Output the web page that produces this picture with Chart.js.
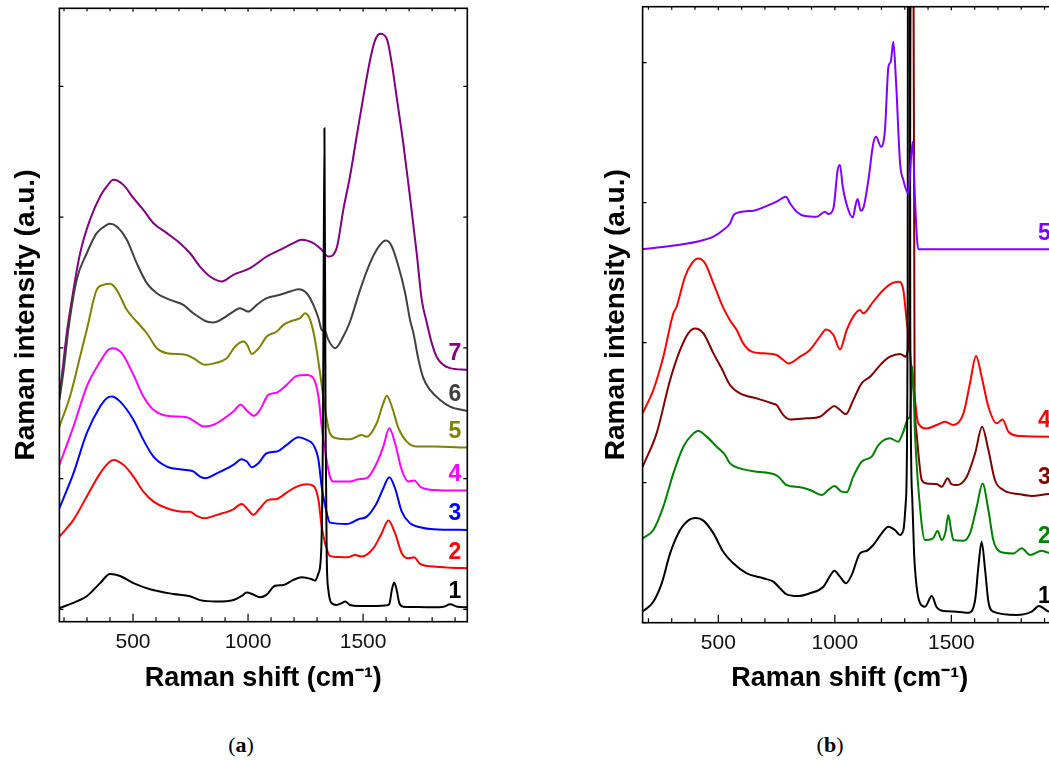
<!DOCTYPE html>
<html>
<head>
<meta charset="utf-8">
<script src="https://cdn.jsdelivr.net/npm/chart.js@4.4.1/dist/chart.umd.min.js"></script>
<style>
  html, body { margin: 0; padding: 0; background: #fff; overflow: hidden; }
  #page { position: relative; width: 1049px; height: 760px; overflow: hidden; background: #fff; }
  canvas { position: absolute; top: 0; }
  #cA { left: 0; }
  #cB { left: 580px; }
  .cap { position: absolute; top: 732px; font-family: "Liberation Serif", "DejaVu Serif", serif; font-size: 22px; color: #000; transform: translateX(-50%); }
</style>
</head>
<body>
<div id="page">
  <canvas id="cA" width="480" height="700"></canvas>
  <canvas id="cB" width="490" height="700"></canvas>
  <div class="cap" style="left:241px">(<b>a</b>)</div>
  <div class="cap" style="left:830px">(<b>b</b>)</div>
</div>
<script>
// ---------- axis ticks ----------
const xMajorTicks = [500, 1000, 1500];
const xMinorTicks = [200, 300, 400, 600, 700, 800, 900, 1100, 1200, 1300, 1400, 1600, 1700, 1800, 1900];
const yTickValues = [0, 1, 2, 3, 4];

// ---------- panel (a) ----------
const aLabels = ['1', '2', '3', '4', '5', '6', '7'];
const aColors = ['#000000', '#ff0000', '#0000ff', '#ff00ff', '#808000', '#404040', '#800080'];

const aShift1 = [180,255,299,357,400,444,502,574,675,748,791,864,936,975,994,1020,1052,1080,1117,1154,1197,1233,1277,1291,1306,1318,1326,1332,1337,1342,1349,1364,1385,1405,1422,1443,1480,1560,1605,1614,1625,1635,1646,1658,1675,1700,1800,1850,1878,1910,1953];
const aInt1 = [0.008,0.06,0.10,0.20,0.27,0.255,0.20,0.153,0.117,0.10,0.07,0.059,0.071,0.105,0.128,0.115,0.092,0.11,0.18,0.186,0.225,0.245,0.23,0.22,0.275,0.45,1.5,3.68,1.4,0.4,0.15,0.046,0.033,0.045,0.059,0.033,0.026,0.026,0.03,0.04,0.148,0.204,0.148,0.045,0.02,0.018,0.015,0.02,0.038,0.02,0.015];

const aShift2 = [180,241,299,357,400,417,458,502,545,589,647,719,748,777,809,864,936,972,1001,1023,1052,1088,1125,1168,1212,1255,1284,1306,1320,1335,1356,1385,1414,1440,1465,1494,1545,1581,1610,1639,1668,1697,1722,1748,1806,1880,1953];
const aInt2 = [0.556,0.684,0.862,1.04,1.13,1.143,1.105,1.015,0.90,0.824,0.773,0.747,0.747,0.714,0.696,0.722,0.765,0.806,0.76,0.722,0.773,0.837,0.844,0.893,0.939,0.957,0.944,0.837,0.633,0.505,0.408,0.40,0.398,0.40,0.416,0.403,0.467,0.582,0.679,0.582,0.429,0.390,0.398,0.347,0.327,0.318,0.314];

const aShift3 = [180,241,299,357,386,407,444,502,545,589,647,733,762,791,813,864,936,972,995,1016,1045,1081,1125,1168,1219,1255,1284,1306,1320,1339,1356,1429,1480,1516,1559,1588,1614,1639,1668,1704,1748,1806,1953];
const aInt3 = [0.773,1.04,1.347,1.551,1.615,1.628,1.589,1.449,1.296,1.168,1.092,1.066,1.055,1.015,1.003,1.04,1.105,1.148,1.13,1.087,1.117,1.194,1.207,1.258,1.316,1.296,1.258,1.143,0.939,0.760,0.663,0.653,0.689,0.709,0.811,0.926,1.010,0.926,0.747,0.658,0.628,0.612,0.607];

const aShift4 = [180,241,299,357,393,412,451,502,545,589,647,733,762,809,864,936,968,995,1026,1052,1088,1125,1168,1212,1255,1284,1306,1320,1339,1356,1371,1443,1480,1516,1559,1588,1614,1639,1668,1697,1722,1751,1806,1953];
const aInt4 = [1.105,1.398,1.704,1.895,1.985,1.997,1.959,1.793,1.628,1.526,1.480,1.469,1.444,1.398,1.423,1.513,1.564,1.52,1.480,1.526,1.640,1.658,1.717,1.786,1.793,1.768,1.628,1.398,1.168,1.015,0.977,0.977,0.995,1.003,1.117,1.245,1.385,1.270,1.066,0.977,0.985,0.934,0.913,0.908];

const aShift5 = [180,226,270,299,342,371,400,429,473,516,560,603,647,733,762,813,857,907,944,980,997,1016,1052,1081,1125,1154,1183,1226,1248,1270,1291,1313,1335,1356,1385,1443,1494,1516,1559,1588,1603,1625,1654,1690,1733,1806,1953];
const aInt5 = [1.398,1.628,1.934,2.138,2.444,2.482,2.490,2.444,2.291,2.2,2.112,1.997,1.959,1.946,1.921,1.870,1.883,1.921,2.010,2.048,2.02,1.954,2.010,2.087,2.125,2.176,2.202,2.227,2.265,2.214,2.061,1.806,1.526,1.347,1.309,1.301,1.334,1.32,1.423,1.577,1.633,1.551,1.385,1.283,1.245,1.245,1.237];

const aShift6 = [180,200,219,255,299,342,386,400,429,473,516,560,603,661,719,762,820,849,893,936,965,1001,1038,1081,1139,1183,1219,1255,1284,1306,1320,1335,1349,1378,1414,1443,1487,1530,1559,1588,1600,1625,1654,1683,1704,1719,1741,1762,1791,1835,1878,1953];
const aInt6 = [1.60,1.85,2.14,2.520,2.724,2.878,2.941,2.949,2.929,2.827,2.648,2.495,2.418,2.367,2.329,2.265,2.202,2.194,2.227,2.278,2.304,2.278,2.329,2.380,2.406,2.431,2.449,2.418,2.329,2.227,2.138,2.125,2.061,1.997,2.087,2.20,2.444,2.648,2.750,2.814,2.821,2.776,2.622,2.418,2.214,2.112,1.908,1.768,1.679,1.602,1.551,1.518];

const aShift7 = [180,195,212,234,270,313,357,386,415,458,502,545,589,647,704,748,791,835,886,936,1009,1081,1154,1197,1233,1284,1320,1349,1385,1414,1443,1472,1501,1530,1552,1574,1603,1625,1646,1675,1704,1733,1755,1776,1798,1820,1849,1878,1953];
const aInt7 = [1.63,1.85,2.112,2.367,2.724,2.980,3.158,3.235,3.286,3.247,3.145,3.056,2.954,2.878,2.801,2.724,2.622,2.546,2.508,2.559,2.610,2.699,2.763,2.801,2.827,2.801,2.750,2.699,2.763,3.056,3.311,3.617,3.918,4.199,4.352,4.403,4.365,4.173,3.918,3.561,3.153,2.724,2.367,2.2,2.04,1.93,1.87,1.845,1.832];

// ---------- panel (b) ----------
const bLabels = ['5', '1', '2', '3', '4'];
const bColors = ['#8000ff', '#000000', '#008000', '#800000', '#ff0000'];

const bShift5 = [175,293,407,479,521,550,569,650,693,750,790,808,836,872,922,958,972,994,1012,1022,1034,1058,1077,1090,1098,1111,1122,1144,1165,1177,1198,1215,1230,1240,1251,1263,1280,1294,1315,1334,1344,1358,1953];
const bInt5 = [2.667,2.690,2.721,2.757,2.805,2.852,2.919,2.943,2.967,3.007,3.043,2.995,2.936,2.905,2.900,2.936,2.919,2.960,3.233,3.269,3.114,2.948,2.895,2.990,3.026,2.943,2.960,3.162,3.424,3.471,3.400,3.519,3.971,4.007,4.150,3.852,3.281,3.162,3.067,3.436,3.019,2.667,2.667];

const bShift1 = [175,221,257,293,336,378,404,436,479,521,564,622,693,736,765,793,843,893,951,979,998,1022,1048,1072,1108,1137,1165,1201,1230,1258,1280,1294,1305,1312,1316,1318,1320,1324,1332,1340,1351,1366,1387,1416,1437,1466,1523,1573,1602,1616,1630,1645,1659,1680,1780,1845,1876,1919,1953];
const bInt1 = [0.079,0.150,0.281,0.495,0.662,0.738,0.748,0.729,0.638,0.507,0.424,0.352,0.317,0.293,0.245,0.202,0.190,0.210,0.257,0.333,0.371,0.329,0.281,0.340,0.495,0.514,0.555,0.638,0.686,0.662,0.626,0.66,0.876,2,10,30,10,2,0.9,0.5,0.257,0.138,0.114,0.190,0.110,0.083,0.079,0.071,0.162,0.400,0.579,0.376,0.150,0.079,0.055,0.079,0.119,0.079,0.075];

const bShift2 = [175,221,264,307,350,386,414,450,493,529,550,593,665,736,758,793,851,893,944,972,998,1029,1051,1079,1115,1158,1187,1237,1272,1294,1315,1322,1333,1344,1358,1387,1420,1441,1459,1475,1487,1500,1509,1552,1580,1609,1634,1659,1680,1709,1766,1802,1838,1888,1919,1953];
const bInt2 = [0.602,0.662,0.829,1.067,1.257,1.340,1.369,1.329,1.257,1.198,1.138,1.102,1.079,1.062,1.043,0.983,0.967,0.948,0.912,0.948,0.976,0.936,0.931,1.043,1.150,1.186,1.269,1.317,1.293,1.364,1.460,1.47,1.829,1.352,0.971,0.590,0.60,0.655,0.590,0.65,0.769,0.65,0.590,0.586,0.638,0.829,0.995,0.805,0.590,0.507,0.495,0.531,0.483,0.514,0.500,0.50];

const bShift3 = [175,235,293,336,371,400,436,479,514,550,593,665,729,750,779,808,879,936,972,998,1022,1048,1079,1115,1151,1201,1237,1280,1305,1320,1326,1329,1334,1337,1343,1351,1362,1373,1394,1437,1459,1484,1500,1523,1566,1602,1632,1659,1687,1723,1795,1845,1919,1953];
const bInt3 = [1.114,1.352,1.733,1.948,2.067,2.102,2.067,1.924,1.817,1.698,1.638,1.602,1.567,1.555,1.483,1.452,1.460,1.471,1.519,1.548,1.519,1.490,1.590,1.710,1.757,1.852,1.900,1.919,1.90,2.0,5,30,30,5,1.6,1.352,1.15,1.019,0.995,0.990,0.971,1.031,0.99,0.983,1.043,1.210,1.400,1.233,1.019,0.948,0.917,0.905,0.919,0.92];

const bShift4 = [175,221,264,307,321,357,386,414,443,479,521,550,579,607,643,693,750,779,800,851,893,936,962,994,1022,1051,1079,1108,1122,1165,1208,1244,1273,1294,1308,1315,1330,1344,1358,1394,1437,1473,1509,1552,1580,1606,1630,1659,1695,1720,1745,1795,1919,1953];
const bInt4 = [1.495,1.662,1.900,2.210,2.257,2.471,2.567,2.602,2.567,2.424,2.25,2.16,2.09,1.995,1.936,1.924,1.912,1.876,1.852,1.900,1.948,2.043,2.095,2.055,1.952,2.090,2.186,2.233,2.210,2.293,2.376,2.424,2.436,2.376,2.162,2.067,1.8,1.590,1.424,1.388,1.412,1.436,1.412,1.495,1.710,1.905,1.757,1.543,1.424,1.452,1.364,1.333,1.329,1.329];

const xTitle = 'Raman shift (cm\u207B\u00B9)';
const yTitle = 'Raman intensity (a.u.)';

// ---------- helpers ----------
const FONT = '"Liberation Sans", Arial, Helvetica, sans-serif';
Chart.defaults.font.family = FONT;
Chart.defaults.color = '#000';

function pts(xs, ys) { return xs.map((x, i) => ({ x: x, y: ys[i] })); }

function makeDatasets(labels, colors, shifts, ints) {
  return labels.map((lab, i) => ({
    label: lab,
    data: pts(shifts[i], ints[i]),
    borderColor: colors[i],
    backgroundColor: colors[i],
    borderWidth: 2,
    pointRadius: 0,
    fill: false,
    cubicInterpolationMode: 'monotone'
  }));
}

const frameTicks = {
  id: 'frameTicks',
  afterDatasetsDraw(chart, args, opts) {
    const { ctx, chartArea: a, scales } = chart;
    const x = scales.x, y = scales.y;
    ctx.save();
    ctx.strokeStyle = '#000';
    ctx.lineWidth = 1.2;
    ctx.beginPath();
    opts.major.forEach(v => {
      const px = x.getPixelForValue(v);
      ctx.moveTo(px, a.bottom); ctx.lineTo(px, a.bottom - 8);
      ctx.moveTo(px, a.top); ctx.lineTo(px, a.top + 3.5);
    });
    opts.minor.forEach(v => {
      const px = x.getPixelForValue(v);
      ctx.moveTo(px, a.bottom); ctx.lineTo(px, a.bottom - 4.5);
      ctx.moveTo(px, a.top); ctx.lineTo(px, a.top + 3);
    });
    opts.yTicks.forEach(v => {
      const py = y.getPixelForValue(v);
      ctx.moveTo(a.left, py); ctx.lineTo(a.left + 4, py);
      ctx.moveTo(a.right, py); ctx.lineTo(a.right - 4, py);
    });
    ctx.stroke();
    ctx.lineWidth = 1.6;
    ctx.strokeRect(a.left, a.top, a.right - a.left, a.bottom - a.top);
    ctx.restore();
  }
};

const endLabels = {
  id: 'endLabels',
  afterDatasetsDraw(chart, args, opts) {
    const { ctx, chartArea: a, scales } = chart;
    ctx.save();
    ctx.font = 'bold 23px ' + FONT;
    ctx.textAlign = 'right';
    ctx.textBaseline = 'middle';
    chart.data.datasets.forEach(ds => {
      const last = ds.data[ds.data.length - 1];
      ctx.fillStyle = ds.borderColor;
      ctx.fillText(ds.label, a.right - 6, scales.y.getPixelForValue(last.y) - 16);
    });
    ctx.restore();
  }
};

function makeChart(id, datasets, cfg) {
  return new Chart(document.getElementById(id), {
    type: 'line',
    data: { datasets: datasets },
    plugins: [frameTicks, endLabels],
    options: {
      responsive: false,
      animation: false,
      events: [],
      layout: { padding: cfg.padding },
      plugins: {
        legend: { display: false },
        tooltip: { enabled: false },
        frameTicks: { major: xMajorTicks, minor: xMinorTicks, yTicks: yTickValues }
      },
      scales: {
        x: {
          type: 'linear',
          min: cfg.xMin, max: cfg.xMax,
          grid: { display: false, drawTicks: false },
          border: { display: false },
          afterBuildTicks: s => { s.ticks = xMajorTicks.map(v => ({ value: v })); },
          ticks: {
            font: { size: 21 }, color: '#111', padding: cfg.xTickPad,
            maxRotation: 0, autoSkip: false,
            callback: v => String(v)
          },
          title: {
            display: true, text: xTitle, color: '#000',
            font: { size: 27, weight: 'bold' },
            padding: { top: cfg.xTitlePad, bottom: 0 }
          }
        },
        y: {
          type: 'linear',
          min: cfg.yMin, max: cfg.yMax,
          grid: { display: false, drawTicks: false },
          border: { display: false },
          ticks: { display: false },
          title: {
            display: true, text: yTitle, color: '#000',
            font: { size: 28, weight: 'bold' },
            padding: cfg.yTitlePad
          }
        }
      }
    }
  });
}

makeChart('cA',
  makeDatasets(aLabels, aColors,
    [aShift1, aShift2, aShift3, aShift4, aShift5, aShift6, aShift7],
    [aInt1, aInt2, aInt3, aInt4, aInt5, aInt6, aInt7]),
  { padding: { left: 0, top: 8.3, right: 12.7, bottom: 4.8 },
    xMin: 180, xMax: 1953, yMin: -0.095, yMax: 4.598,
    xTickPad: 8.4, xTitlePad: -0.9, yTitlePad: { top: 9, bottom: 16.8 } });

makeChart('cB',
  makeDatasets(bLabels, bColors,
    [bShift5, bShift1, bShift2, bShift3, bShift4],
    [bInt5, bInt1, bInt2, bInt3, bInt4]),
  { padding: { left: 0, top: 6.7, right: 13.1, bottom: 4.8 },
    xMin: 175, xMax: 1953, yMin: 0, yMax: 4.4,
    xTickPad: 8.2, xTitlePad: -1.5, yTitlePad: { top: 19, bottom: 10 } });
</script>
</body>
</html>
